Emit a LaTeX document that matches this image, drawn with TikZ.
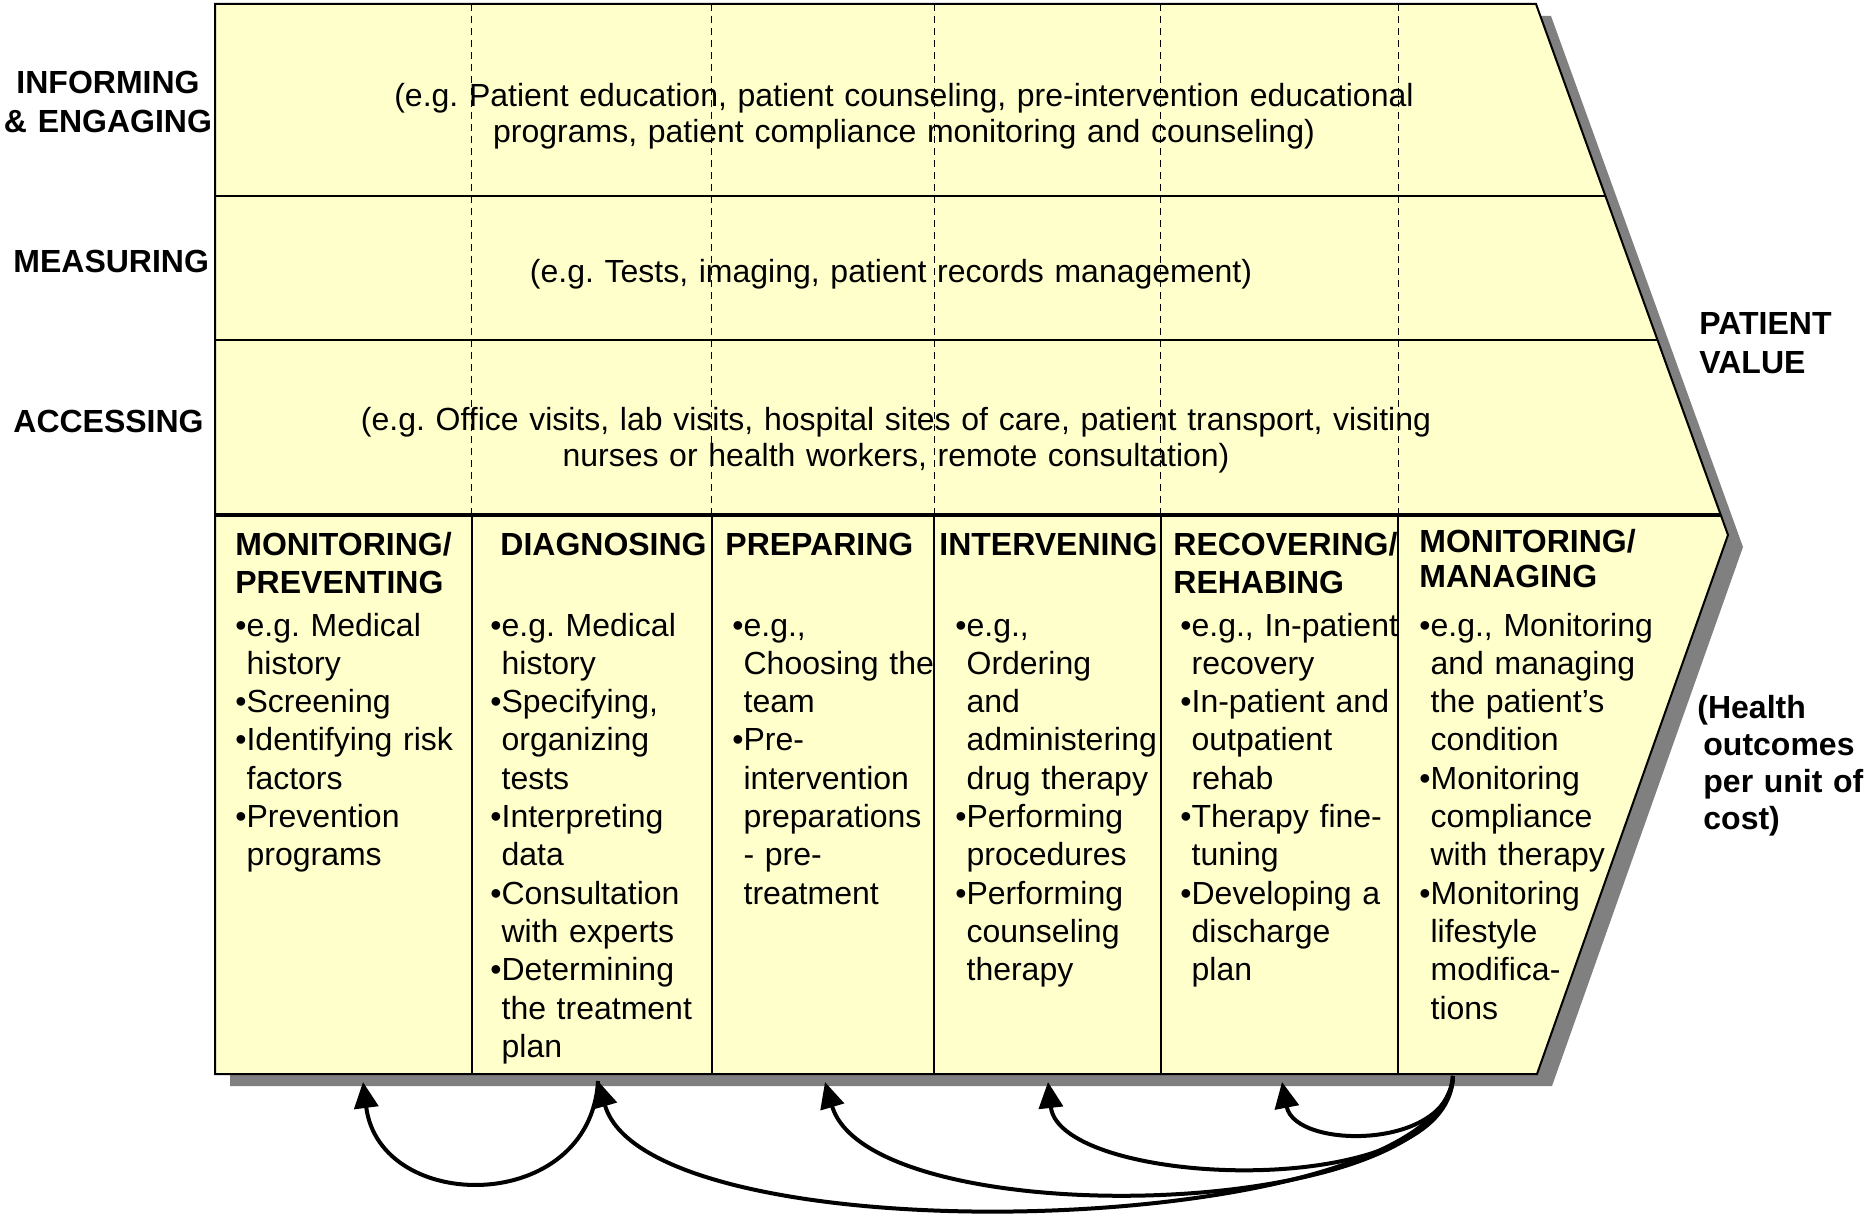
\documentclass[tikz,border=0pt]{standalone}
\usepackage{fontspec}
\setmainfont{Liberation Sans}
\usetikzlibrary{arrows.meta}
\definecolor{chainfill}{HTML}{FFFFCC}
\definecolor{chainshadow}{HTML}{808080}
% bullet and matching hanging indent
\newcommand\itm{•}
\newcommand\cnt{\phantom{•}}
\begin{document}
\frenchspacing
\begin{tikzpicture}[x=0.5pt,y=-0.5pt,
  txt/.style={inner sep=0pt},
  bodytxt/.style={txt, anchor=base west, text width=125pt, align=left,
    font=\fontsize{16}{19.15}\selectfont},
  headtxt/.style={txt, anchor=base west, text width=125pt, align=left,
    font=\fontsize{16}{19}\selectfont\bfseries},
  rowtxt/.style={txt, anchor=base, text width=560pt, align=center,
    font=\fontsize{16}{18}\selectfont},
  sidetxt/.style={txt, anchor=base west, text width=110pt, align=left,
    font=\fontsize{16}{19.25}\selectfont\bfseries},
  outline/.style={draw=black, line width=1pt, line join=miter},
  rowline/.style={line width=0.7pt},
  stageline/.style={line width=2pt},
  colsep/.style={line width=0.8pt},
  dashsep/.style={line width=0.5pt, dash pattern=on 3.7pt off 2.3pt},
  loop/.style={line width=2pt, -{Triangle[length=13pt,width=12pt]}},
]
\useasboundingbox (0,0) rectangle (1865,1214);

% corners of the value-chain chevron
\coordinate (tl) at (215,4);
\coordinate (tr) at (1536,4);
\coordinate (tip) at (1728,535);
\coordinate (br) at (1537,1074);
\coordinate (bl) at (215,1074);

% drop shadow
\fill[chainshadow, shift={(15,12)}] (215,4) -- (1536,4) -- (1728,535) -- (1537,1074) -- (215,1074) -- cycle;
% chevron body
\fill[chainfill] (tl) -- (tr) -- (tip) -- (br) -- (bl) -- cycle;

% band separators
\coordinate (r1l) at (215,196);  \coordinate (r1r) at (1605.4,196);
\coordinate (r2l) at (215,340);  \coordinate (r2r) at (1657.5,340);
\coordinate (r3l) at (215,515);  \coordinate (r3r) at (1720.8,515);
\draw[rowline] (r1l) -- (r1r);
\draw[rowline] (r2l) -- (r2r);

% stage boundaries: dashed through the support bands, solid below
\foreach \x in {471,711,934,1160,1398}
  \draw[dashsep] (\x,4) -- (\x,515);
\foreach \x in {472,712,934,1161,1398}
  \draw[colsep] (\x,515) -- (\x,1074);
\draw[stageline] (r3l) -- (r3r);

\draw[outline] (tl) -- (tr) -- (tip) -- (br) -- (bl) -- cycle;

% support activities
\node[sidetxt, anchor=base, align=center] (lblinf) at (108,94) {INFORMING\\\& ENGAGING};
\node[sidetxt] (lblmea) at (13,273) {MEASURING};
\node[sidetxt] (lblacc) at (13,433) {ACCESSING};

\node[rowtxt] (rowinf) at (904,107) {(e.g. Patient education, patient counseling, pre-intervention educational\\programs, patient compliance monitoring and counseling)};
\node[rowtxt] (rowmea) at (891,283) {(e.g. Tests, imaging, patient records management)};
\node[rowtxt] (rowacc) at (896,430) {(e.g. Office visits, lab visits, hospital sites of care, patient transport, visiting\\nurses or health workers, remote consultation)};

% outcome labels
\node[sidetxt] (val) at (1699,335) {PATIENT\\VALUE};
\node[sidetxt, font=\fontsize{16}{18.5}\selectfont\bfseries] (health) at (1703,718) {\hspace*{-3pt}(Health\\outcomes\\per unit of\\cost)};

% stage headings
\node[headtxt] (hd1) at (235,555) {MONITORING/\\PREVENTING};
\node[headtxt] (hd2) at (500,555) {DIAGNOSING};
\node[headtxt] (hd3) at (725,555) {PREPARING};
\node[headtxt] (hd4) at (939,555) {INTERVENING};
\node[headtxt] (hd5) at (1173,555) {RECOVERING/\\REHABING};
\node[headtxt, font=\fontsize{16}{17.5}\selectfont\bfseries] (hd6) at (1419,552) {MONITORING/\\MANAGING};

% stage activities
\node[bodytxt] (bd1) at (235,636) {\itm e.g. Medical\\\cnt history\\\itm Screening\\\itm Identifying risk\\\cnt factors\\\itm Prevention\\\cnt programs};
\node[bodytxt] (bd2) at (490,636) {\itm e.g. Medical\\\cnt history\\\itm Specifying,\\\cnt organizing\\\cnt tests\\\itm Interpreting\\\cnt data\\\itm Consultation\\\cnt with experts\\\itm Determining\\\cnt the treatment\\\cnt plan};
\node[bodytxt] (bd3) at (732,636) {\itm e.g.,\\\cnt Choosing the\\\cnt team\\\itm Pre-\\\cnt intervention\\\cnt preparations\\\cnt - pre-\\\cnt treatment};
\node[bodytxt] (bd4) at (955,636) {\itm e.g.,\\\cnt Ordering\\\cnt and\\\cnt administering\\\cnt drug therapy\\\itm Performing\\\cnt procedures\\\itm Performing\\\cnt counseling\\\cnt therapy};
\node[bodytxt] (bd5) at (1180,636) {\itm e.g., In-patient\\\cnt recovery\\\itm In-patient and\\\cnt outpatient\\\cnt rehab\\\itm Therapy fine-\\\cnt tuning\\\itm Developing a\\\cnt discharge\\\cnt plan};
\node[bodytxt] (bd6) at (1419,636) {\itm e.g., Monitoring\\\cnt and managing\\\cnt the patient’s\\\cnt condition\\\itm Monitoring\\\cnt compliance\\\cnt with therapy\\\itm Monitoring\\\cnt lifestyle\\\cnt modifica-\\\cnt tions};

% feedback loops along the bottom edge
\coordinate (src) at (1453,1076);
\coordinate (inrec) at (1282,1082);
\coordinate (inint) at (1048,1082);
\coordinate (inprep) at (825,1082);
\coordinate (indiag) at (598,1081);
\coordinate (inmon) at (363,1082);

\draw[loop] (src) .. controls (1450,1150) and (1295,1150) .. (inrec);
\draw[loop] (src) .. controls (1450,1205) and (1060,1188) .. (inint);
\draw[loop] (src) .. controls (1445,1225) and (870,1235) .. (inprep);
\draw[loop] (src) .. controls (1440,1240) and (650,1262) .. (indiag);
\draw[loop] (indiag) .. controls (590,1215) and (380,1215) .. (inmon);
\end{tikzpicture}
\end{document}
